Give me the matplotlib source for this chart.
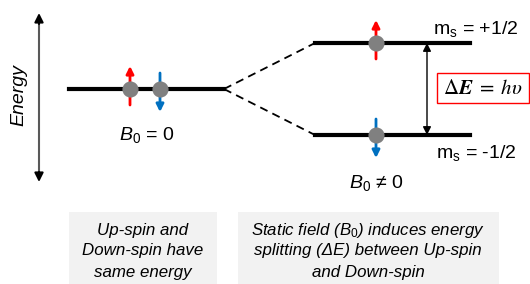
import matplotlib.pyplot as plt
from matplotlib.patches import Rectangle

plt.rcParams['font.family'] = ['Liberation Sans', 'DejaVu Sans']
plt.rcParams['mathtext.fontset'] = 'custom'
plt.rcParams['mathtext.rm'] = 'Liberation Sans'
plt.rcParams['mathtext.it'] = 'Liberation Sans:italic'
plt.rcParams['mathtext.bf'] = 'Liberation Sans:bold'

# niveis de energia (coordenadas do desenho, y cresce para baixo)
nivel_b0 = 89          # nivel unico sem campo
nivel_cima = 43        # m_s = +1/2
nivel_baixo = 135      # m_s = -1/2
x_esq = (69, 224)
x_dir = (315, 470)
spins_esq = [130, 160]  # posicoes dos eletrons no nivel unico
spin_dir = 376

textos_esq = ['Up-spin and', 'Down-spin have', 'same energy']
textos_dir = [r'Static field ($\mathit{B_0}$) induces energy',
              'splitting (ΔE) between Up-spin', 'and Down-spin']

vermelho = '#ff0000'
azul = '#0070c0'
cinza = '#808080'

fig = plt.figure(figsize=(5.3, 2.84), dpi=100)
ax = fig.add_axes([0, 0, 1, 1])
ax.set_xlim(0, 530)
ax.set_ylim(284, 0)
ax.axis('off')


def seta(x0, y0, x1, y1, cor, lw=2.0, esc=11, estilo='-|>'):
    ax.annotate('', xy=(x1, y1), xytext=(x0, y0),
                arrowprops=dict(arrowstyle=estilo, color=cor, lw=lw,
                                mutation_scale=esc, shrinkA=0, shrinkB=0),
                zorder=3)


# eixo de energia: linha cinza com pontas pretas
ax.plot([39, 39], [20, 176], color='#595959', lw=1.5, zorder=2)
seta(39, 24, 39, 13, 'black', lw=1.5, esc=13)
seta(39, 172, 39, 182, 'black', lw=1.5, esc=13)
ax.text(19, 95, 'Energy', rotation=90, fontsize=14, fontstyle='italic',
        ha='center', va='center')

# niveis
ax.plot(x_esq, [nivel_b0, nivel_b0], color='black', lw=3, zorder=2)
ax.plot(x_dir, [nivel_cima, nivel_cima], color='black', lw=3, zorder=2)
ax.plot(x_dir, [nivel_baixo, nivel_baixo], color='black', lw=3, zorder=2)
ax.plot([x_esq[1], x_dir[0]], [nivel_b0, nivel_cima], color='black', lw=1.3,
        ls=(0, (4.5, 3)), zorder=2)
ax.plot([x_esq[1], x_dir[0]], [nivel_b0, nivel_baixo], color='black', lw=1.3,
        ls=(0, (4.5, 3)), zorder=2)

# spins
seta(spins_esq[0], nivel_b0 + 16, spins_esq[0], nivel_b0 - 23, vermelho)
seta(spins_esq[1], nivel_b0 - 16, spins_esq[1], nivel_b0 + 23, azul)
seta(spin_dir, nivel_cima + 16, spin_dir, nivel_cima - 23, vermelho)
seta(spin_dir, nivel_baixo - 16, spin_dir, nivel_baixo + 23, azul)
ax.scatter(spins_esq + [spin_dir, spin_dir],
           [nivel_b0, nivel_b0, nivel_cima, nivel_baixo],
           s=135, color=cinza, zorder=4, linewidths=0)

# seta dupla do delta E
seta(427, nivel_baixo, 427, nivel_cima, 'black', lw=1.0, esc=12, estilo='<|-|>')

# caixa do delta E
ax.add_patch(Rectangle((437, 73), 92, 30, facecolor='white', edgecolor=vermelho,
                       lw=1.0, zorder=3))
ax.text(483, 88.5, r'$\mathrm{\Delta} \mathbfit{E}\;=\;h\upsilon$', fontsize=15,
        math_fontfamily='stix', ha='center', va='center', zorder=4)

# rotulos
ax.text(476, 29, r'$\mathrm{m_s}$ = +1/2', fontsize=14, ha='center', va='center')
ax.text(476, 153, r'$\mathrm{m_s}$ = -1/2', fontsize=14, ha='center', va='center')
ax.text(147, 135, r'$B_0$ = 0', fontsize=14, ha='center', va='center')
ax.text(376, 183, r'$B_0$ ≠ 0', fontsize=14, ha='center', va='center')

# caixas de explicacao
ax.add_patch(Rectangle((69, 212), 148, 72, facecolor='#f2f2f2', edgecolor='none'))
ax.add_patch(Rectangle((238, 212), 261, 72, facecolor='#f2f2f2', edgecolor='none'))
for i, t in enumerate(textos_esq):
    ax.text(143, 230 + 21 * i, t, fontsize=12.2, fontstyle='italic',
            ha='center', va='center')
for i, t in enumerate(textos_dir):
    ax.text(368, 230 + 21 * i, t, fontsize=12.2, fontstyle='italic',
            ha='center', va='center')

fig.savefig('out.png', dpi=100)
